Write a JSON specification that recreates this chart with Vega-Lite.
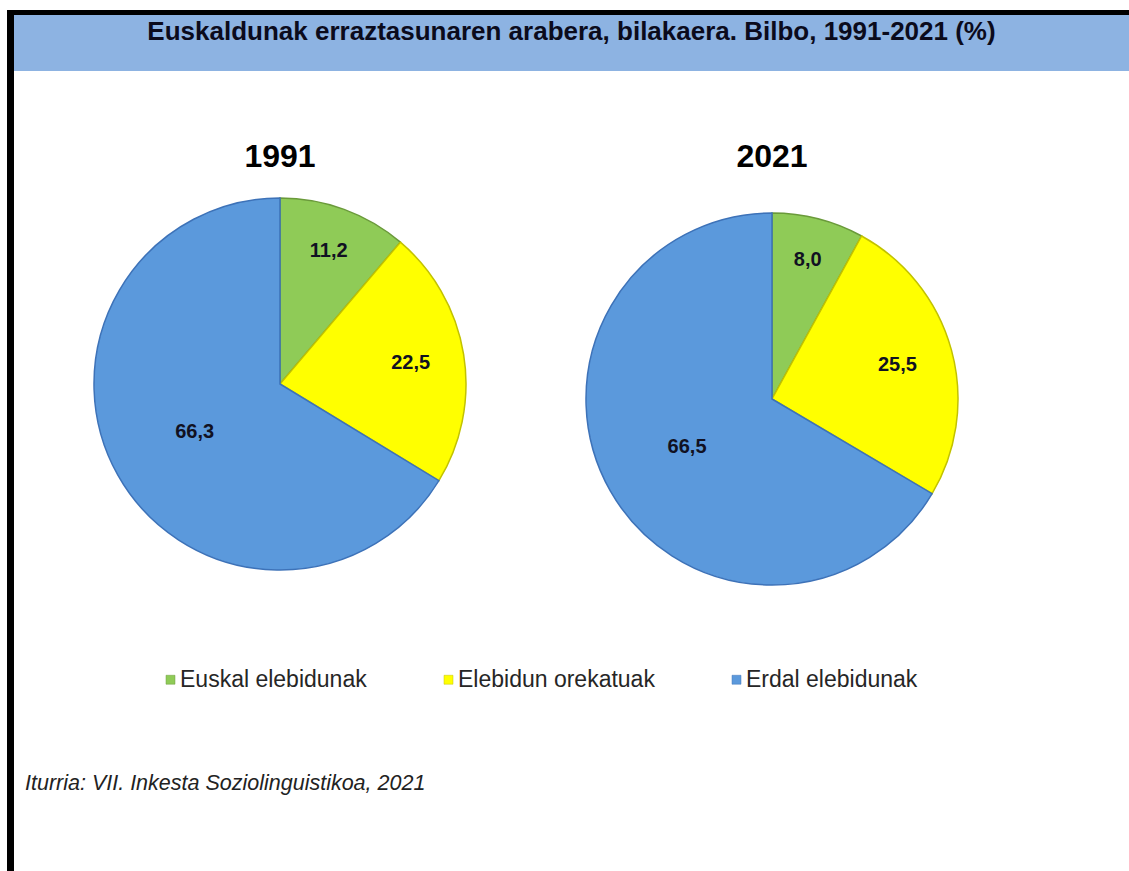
{
  "$schema": "https://vega.github.io/schema/vega-lite/v6.json",
  "background": "white",
  "padding": {"left": 7, "top": 10, "right": 0, "bottom": 0},
  "spacing": 0,
  "config": {
    "font": "Liberation Sans",
    "view": {"stroke": null},
    "locale": {"number": {"decimal": ",", "thousands": ".", "grouping": [3], "currency": ["", " €"]}},
    "title": {"fontSize": 32, "fontWeight": "bold", "color": "#000000", "offset": 15, "anchor": "middle"}
  },
  "datasets": {
    "shares": [
      {"year": "1991", "group": "Euskal elebidunak", "k": 1, "value": 11.2},
      {"year": "1991", "group": "Elebidun orekatuak", "k": 2, "value": 22.5},
      {"year": "1991", "group": "Erdal elebidunak", "k": 3, "value": 66.3},
      {"year": "2021", "group": "Euskal elebidunak", "k": 1, "value": 8.0},
      {"year": "2021", "group": "Elebidun orekatuak", "k": 2, "value": 25.5},
      {"year": "2021", "group": "Erdal elebidunak", "k": 3, "value": 66.5}
    ],
    "heading": [{"text": "Euskaldunak erraztasunaren arabera, bilakaera. Bilbo, 1991-2021 (%)"}],
    "blank": [{"b": ""}]
  },
  "hconcat": [
    {
      "width": 7, "height": 861,
      "view": {"fill": "#000000", "stroke": null},
      "data": {"name": "blank"},
      "mark": {"type": "text", "text": "", "fontSize": 0}
    },
    {
      "spacing": 0,
      "vconcat": [
        {
          "width": 1115, "height": 5,
          "view": {"fill": "#000000", "stroke": null},
          "data": {"name": "blank"},
          "mark": {"type": "text", "text": "", "fontSize": 0}
        },
        {
          "width": 1115, "height": 56,
          "view": {"fill": "#8DB3E2", "stroke": null},
          "data": {"name": "heading"},
          "mark": {"type": "text", "fontSize": 26, "fontWeight": "bold", "color": "#0b0b1c", "dy": -11},
          "encoding": {"text": {"field": "text", "type": "nominal"}}
        },
        {
          "width": 1115, "height": 70,
          "data": {"name": "blank"},
          "mark": {"type": "text", "text": "", "fontSize": 0}
        },
        {
          "spacing": 0,
          "title": {
            "text": "Iturria: VII. Inkesta Soziolinguistikoa, 2021",
            "orient": "bottom", "anchor": "start", "offset": 164, "dx": 11,
            "fontSize": 21.5, "fontStyle": "italic", "fontWeight": "normal", "color": "#222222"
          },
          "hconcat": [
            {
              "width": 532, "height": 390,
              "title": {"text": "1991"},
              "data": {"name": "shares"},
              "transform": [{"filter": "datum.year === '1991'"}],
              "encoding": {
                "theta": {"field": "value", "type": "quantitative", "stack": true},
                "order": {"field": "k", "type": "quantitative"},
                "detail": {"field": "group", "type": "nominal"}
              },
              "layer": [
                {
                  "mark": {"type": "arc", "outerRadius": 186, "strokeWidth": 1.5},
                  "encoding": {
                    "color": {
                      "field": "group", "type": "nominal",
                      "scale": {"domain": ["Euskal elebidunak", "Elebidun orekatuak", "Erdal elebidunak"], "range": ["#8FCB57", "#FFFF00", "#5B99DC"]},
                      "legend": {
                        "orient": "none", "legendX": 152, "legendY": 658, "direction": "horizontal",
                        "title": null, "labelFontSize": 23, "labelColor": "#262626", "labelLimit": 0,
                        "symbolType": "square", "symbolSize": 80, "columnPadding": 70, "labelOffset": -2,
                        "symbolStrokeColor": "#555555", "symbolStrokeWidth": 0.5
                      }
                    },
                    "stroke": {
                      "field": "group", "type": "nominal",
                      "scale": {"domain": ["Euskal elebidunak", "Elebidun orekatuak", "Erdal elebidunak"], "range": ["#6A9A3A", "#C2C200", "#3D72B8"]},
                      "legend": null
                    }
                  }
                },
                {
                  "mark": {"type": "text", "fontSize": 20, "fontWeight": "bold", "color": "#111122"},
                  "encoding": {
                    "text": {"field": "value", "type": "quantitative", "format": ".1f"},
                    "radius": {"field": "value", "type": "quantitative", "scale": {"type": "linear", "domain": [0, 70], "range": [150, 95], "zero": false}}
                  }
                }
              ]
            },
            {
              "width": 452, "height": 420,
              "title": {"text": "2021"},
              "data": {"name": "shares"},
              "transform": [{"filter": "datum.year === '2021'"}],
              "encoding": {
                "theta": {"field": "value", "type": "quantitative", "stack": true},
                "order": {"field": "k", "type": "quantitative"},
                "detail": {"field": "group", "type": "nominal"}
              },
              "layer": [
                {
                  "mark": {"type": "arc", "outerRadius": 186, "strokeWidth": 1.5},
                  "encoding": {
                    "color": {
                      "field": "group", "type": "nominal",
                      "scale": {"domain": ["Euskal elebidunak", "Elebidun orekatuak", "Erdal elebidunak"], "range": ["#8FCB57", "#FFFF00", "#5B99DC"]}
                    },
                    "stroke": {
                      "field": "group", "type": "nominal",
                      "scale": {"domain": ["Euskal elebidunak", "Elebidun orekatuak", "Erdal elebidunak"], "range": ["#6A9A3A", "#C2C200", "#3D72B8"]},
                      "legend": null
                    }
                  }
                },
                {
                  "mark": {"type": "text", "fontSize": 20, "fontWeight": "bold", "color": "#111122"},
                  "encoding": {
                    "text": {"field": "value", "type": "quantitative", "format": ".1f"},
                    "radius": {"field": "value", "type": "quantitative", "scale": {"type": "linear", "domain": [0, 70], "range": [150, 95], "zero": false}}
                  }
                }
              ]
            }
          ]
        }
      ]
    }
  ]
}
